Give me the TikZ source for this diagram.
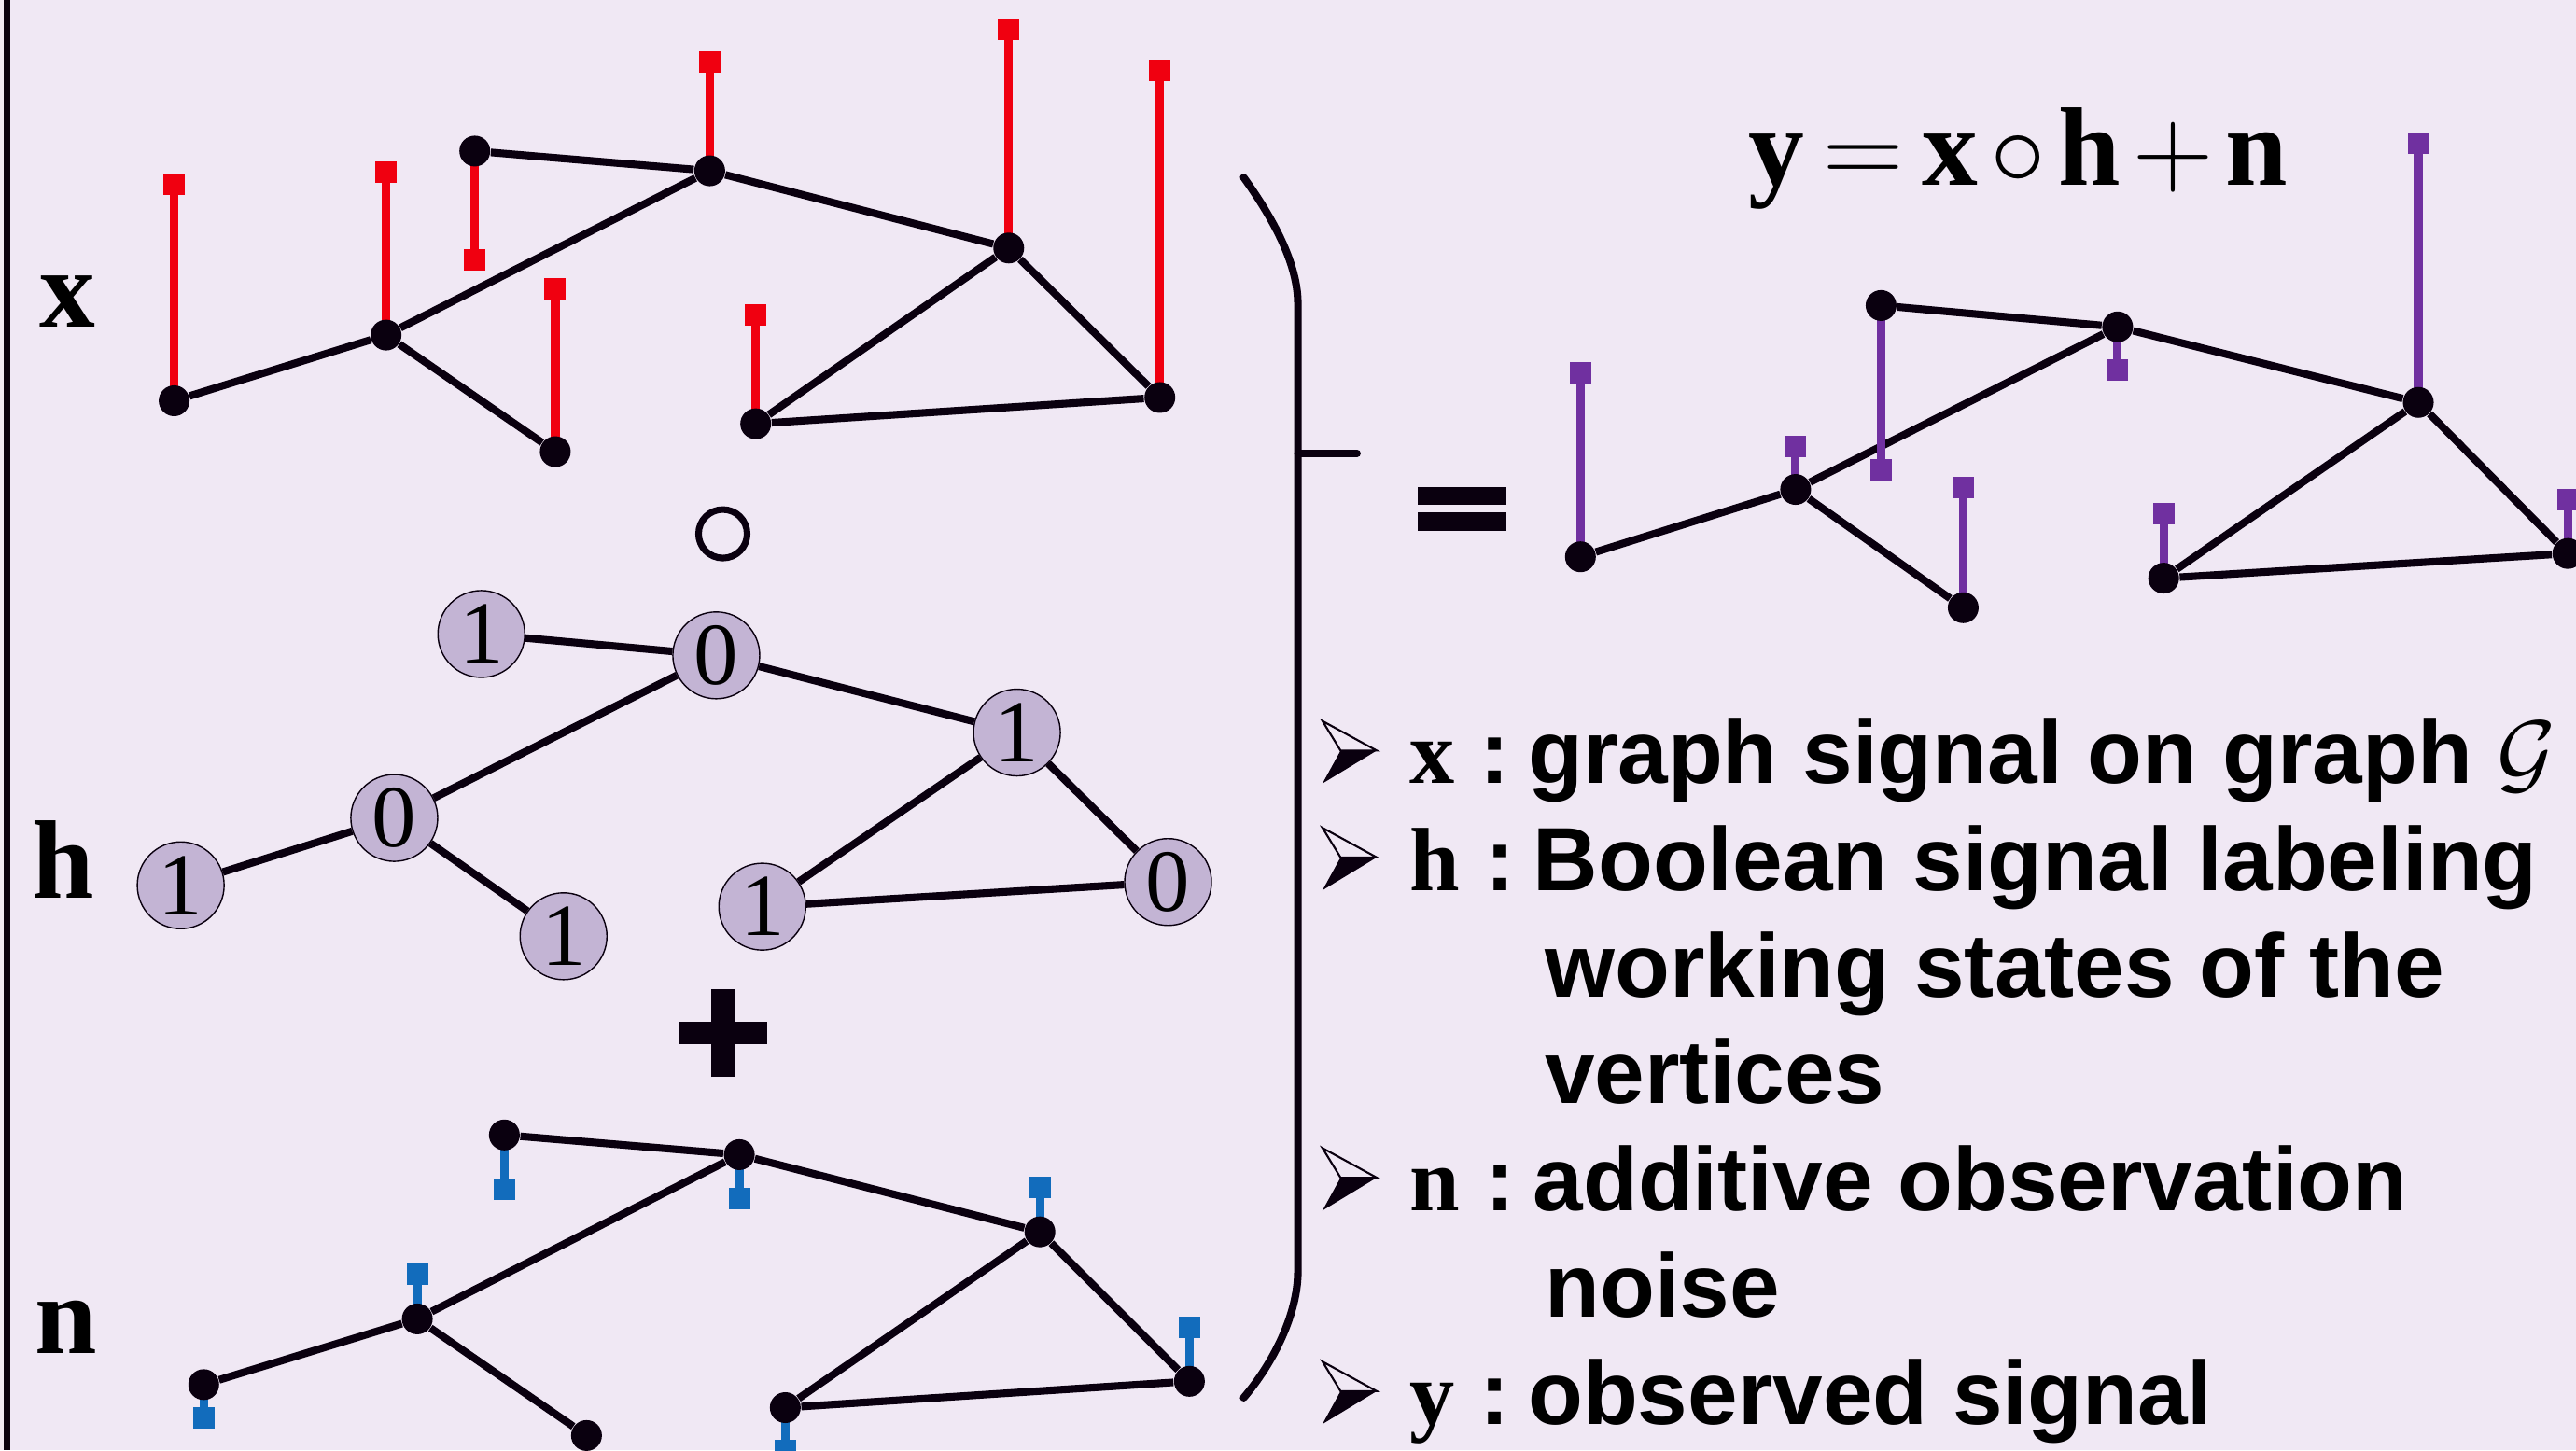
\RequirePackage{fix-cm}
\documentclass[tikz,border=0pt]{standalone}
\usepackage{fontspec}
\setmainfont{Liberation Serif}
\setsansfont{Liberation Sans}
\usetikzlibrary{backgrounds}

\definecolor{paper}{RGB}{240,232,244}
\definecolor{ink}{RGB}{10,0,15}
\definecolor{sigred}{RGB}{240,0,16}
\definecolor{sigblue}{RGB}{18,108,188}
\definecolor{sigpurple}{RGB}{112,48,160}
\definecolor{bitfill}{RGB}{195,180,212}

\pgfdeclarelayer{wires}
\pgfsetlayers{background,wires,main}

\newcommand{\colsep}{\hspace{0.2em}}

\tikzset{
    dot/.style={circle, fill=ink, inner sep=0pt, minimum size=0.33cm},
    bit/.style={circle, draw=ink, line width=0.4pt, fill=bitfill, inner sep=0pt,
        minimum size=0.93cm, font=\fontsize{27}{27}\selectfont},
    tip/.style={rectangle, inner sep=0pt, minimum size=0.23cm},
    link/.style={draw=ink, line width=2.3pt},
    stem/.style={line width=2.6pt},
    sym/.style={font=\fontsize{34}{34}\selectfont\rmfamily\bfseries, inner sep=0pt, anchor=base west},
    say/.style={font=\fontsize{27.4}{27.4}\selectfont\sffamily\bfseries, inner sep=0pt, anchor=base west},
    pointer/.pic={
        \draw[ink, line width=0.6pt, line join=miter] (-17,-18) -- (16,0) -- (-6,0) -- cycle;
        \fill[ink] (-6,0) -- (16,0) -- (-17,20) -- cycle;
    },
}

\begin{document}
\begin{tikzpicture}[x=0.0176cm, y=-0.0176cm]
    \useasboundingbox (0,0) rectangle (1568,883);
    \begin{scope}[on background layer]
        \fill[paper] (0,0) rectangle (1568,883);
    \end{scope}
    \draw[ink, line width=2pt] (4,0) -- (4,883);

    % graph signal x
    \foreach \i/\px/\py/\t in {1/106/244/112, 2/235/204/105, 3/338/275/176, 4/289/92/158,
                               5/432/104/38, 6/614/151/18, 7/460/258/192, 8/706/242/43} {
        \node[dot] (x\i) at (\px,\py) {};
        \node[tip, fill=sigred] (x\i s) at (\px,\t) {};
    }
    % boolean mask h
    \foreach \i/\px/\py/\b in {1/110/539/1, 2/240/498/0, 3/343/570/1, 4/293/386/1,
                               5/436/399/0, 6/619/446/1, 7/464/552/1, 8/711/537/0}
        \node[bit] (h\i) at (\px,\py) {\b};
    % noise n
    \foreach \i/\px/\py in {1/124/843, 2/254/803, 3/357/874, 4/307/691,
                            5/450/703, 6/633/750, 7/478/857, 8/724/841}
        \node[dot] (n\i) at (\px,\py) {};
    \foreach \i/\px/\t in {1/124/863, 2/254/776, 4/307/724, 5/450/730,
                           6/633/723, 7/478/883, 8/724/808}
        \node[tip, fill=sigblue] (n\i s) at (\px,\t) {};
    % observed y
    \foreach \i/\px/\py/\t in {1/962/339/227, 2/1093/298/272, 3/1195/370/297, 4/1145/186/286,
                               5/1289/199/225, 6/1472/245/87, 7/1317/352/313, 8/1563/337/304} {
        \node[dot] (y\i) at (\px,\py) {};
        \node[tip, fill=sigpurple] (y\i s) at (\px,\t) {};
    }

    \begin{pgfonlayer}{wires}
        \foreach \g in {x,h,n,y}
            \foreach \a/\b in {1/2, 2/3, 2/5, 4/5, 5/6, 6/7, 6/8, 7/8}
                \draw[link] (\g\a) -- (\g\b);
        \foreach \i in {1,...,8} {
            \draw[stem, sigred] (x\i.center) -- (x\i s.center);
            \draw[stem, sigpurple] (y\i.center) -- (y\i s.center);
        }
        \foreach \i in {1,2,4,5,6,7,8}
            \draw[stem, sigblue] (n\i.center) -- (n\i s.center);
    \end{pgfonlayer}

    % operators between the graphs
    \node[circle, draw=ink, line width=2pt, minimum size=0.52cm, inner sep=0pt] (hadamard) at (440,325) {};
    \coordinate (plus) at (440,629);
    \draw[ink, line width=0.24cm] ([xshift=-0.47cm]plus) -- ([xshift=0.47cm]plus);
    \draw[ink, line width=0.24cm] ([yshift=-0.47cm]plus) -- ([yshift=0.47cm]plus);
    \fill[ink] (863,296.5) rectangle (917,307.5);
    \fill[ink] (863,312) rectangle (917,323);

    % big bracket
    \draw[ink, line width=2.3pt, line cap=round]
        (757,108) .. controls (780,140) and (790,165) .. (790,185) -- (790,774)
        .. controls (790,800) and (775,830) .. (757,851);
    \draw[ink, line width=2.3pt, line cap=round] (790,276) -- (826,276);

    % labels
    \node[sym] (labx) at (24,199) {x};
    \node[sym] (labh) at (19,547) {h};
    \node[sym] (labn) at (21,824) {n};
    \node[sym] (model) at (1064,113)
        {$\thickmuskip=3mu\medmuskip=2mu \mathbf{y}=\mathbf{x}\circ\mathbf{h}+\mathbf{n}$};

    % legend
    \node[say] (descx)  at (858,477) {{\rmfamily x} :\colsep graph signal on graph $\mathcal{G}$};
    \node[say] (desch)  at (858,542) {{\rmfamily h} :\colsep Boolean signal labeling};
    \node[say] (desch2) at (940,607) {working states of the};
    \node[say] (desch3) at (940,672) {vertices};
    \node[say] (descn)  at (858,737) {{\rmfamily n} :\colsep additive observation};
    \node[say] (descn2) at (940,802) {noise};
    \node[say] (descy)  at (858,867) {{\rmfamily y} :\colsep observed signal};
    \foreach \yy in {457,522,717,847}
        \pic at (822,\yy) {pointer};
\end{tikzpicture}
\end{document}
